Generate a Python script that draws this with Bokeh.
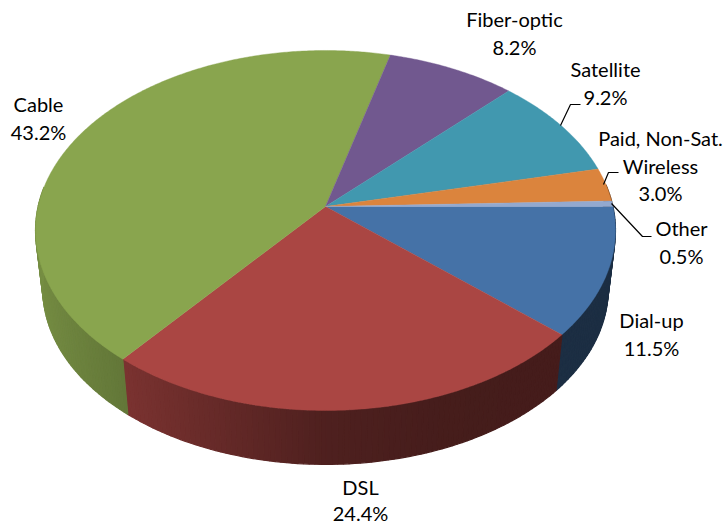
import math
from bokeh.plotting import figure
from bokeh.models import Range1d
from bokeh.core.properties import value
from bokeh.embed import file_html
from bokeh.resources import INLINE

categories = ["Dial-up", "DSL", "Cable", "Fiber-optic", "Satellite", "Paid, Non-Sat. Wireless", "Other"]
shares = [11.5, 24.4, 43.2, 8.2, 9.2, 3.0, 0.5]
colors = ["#4572A7", "#AA4643", "#89A54E", "#71588F", "#4198AF", "#DB843D", "#93A9CF"]

label_lines = [["Dial-up", "11.5%"], ["DSL", "24.4%"], ["Cable", "43.2%"], ["Fiber-optic", "8.2%"],
               ["Satellite", "9.2%"], ["Paid, Non-Sat.", "Wireless", "3.0%"], ["Other", "0.5%"]]
label_x = [651, 360, 38, 514, 605, 660, 681]
label_y = [319.5, 486.5, 103.5, 18.5, 68.5, 137.5, 227.5]
line_steps = [27.7, 25.5, 27.7, 27.7, 27.7, 27.7, 27.7]

# perspective disc
CX, CY, A, B, K = 325, 206, 176.8, 287.4, 0.1333
WALL_SCALE, WALL_Y = 0.975, 265


def top(theta):
    X, Y = math.cos(theta), math.sin(theta)
    d = 1 + K * Y
    return CX + B * X / d, CY - A * Y / d


def bottom(theta):
    X, Y = math.cos(theta), math.sin(theta)
    d = 1 + K * Y
    return CX + WALL_SCALE * B * X / d, WALL_Y - WALL_SCALE * A * Y / d


def shade(X):
    stops = [(-1.0, 0.86), (-0.63, 0.72), (0.0, 0.46), (0.35, 0.41), (1.0, 0.40)]
    for (a, sa), (b, sb) in zip(stops, stops[1:]):
        if X <= b:
            return sa + (sb - sa) * (X - a) / (b - a)
    return stops[-1][1]


def scaled(hexcol, f):
    r, g, b = (int(hexcol[i:i + 2], 16) for i in (1, 3, 5))
    return "#%02x%02x%02x" % (round(r * f), round(g * f), round(b * f))


W, H = 726, 524
p = figure(width=W, height=H, output_backend="svg", toolbar_location=None,
           x_range=Range1d(0, W), y_range=Range1d(H, 0),
           min_border=0, outline_line_color=None, background_fill_color="white")
p.xaxis.visible = False
p.yaxis.visible = False
p.grid.visible = False

# slice spans, clockwise from the 3 o'clock direction
total = sum(shares)
spans = []
start = 0.0
for s in shares:
    spans.append((start, start + s / total * 2 * math.pi))
    start = spans[-1][1]

# side wall, drawn as narrow shaded strips on the near half
wx, wy, wc = [], [], []
for (a, b), col in zip(spans, colors):
    n = max(1, int(math.degrees(b - a)))
    for i in range(n):
        t0 = a + (b - a) * i / n
        t1 = a + (b - a) * (i + 1) / n
        tm = (t0 + t1) / 2
        # positive t runs clockwise on screen: near side is where sin(t) > 0
        if math.sin(tm) < -0.12:
            continue
        p0 = top(-t0); p1 = top(-t1); q1 = bottom(-t1); q0 = bottom(-t0)
        wx.append([p0[0], p1[0], q1[0], q0[0]])
        wy.append([p0[1], p1[1], q1[1], q0[1]])
        wc.append(scaled(col, shade(math.cos(tm))))
p.patches(wx, wy, fill_color=wc, line_color=wc, line_width=1.2)

# top face
fx, fy = [], []
for (a, b) in spans:
    n = max(2, int(math.degrees(b - a)) * 2)
    pts = [top(-(a + (b - a) * i / n)) for i in range(n + 1)]
    fx.append([CX] + [q[0] for q in pts])
    fy.append([CY] + [q[1] for q in pts])
p.patches(fx, fy, fill_color=colors, line_color=colors, line_width=0.4)

# labels
tx, ty, tt = [], [], []
for lines, x, y, step in zip(label_lines, label_x, label_y, line_steps):
    for i, line in enumerate(lines):
        tx.append(x)
        ty.append(y + i * step)
        tt.append(line)
p.text(tx, ty, text=tt, text_font=value("Lato"), text_font_size="20px", text_color="#000000",
       text_align="center", text_baseline="middle")

# leader lines
leader_x = [[603, 608, 618], [611, 642, 651], [560, 570, 580]]
leader_y = [[184, 172, 172], [203, 236, 236], [125, 104, 104]]
p.multi_line(leader_x, leader_y, line_color="#000000", line_width=1.2)

open("out.html", "w").write(file_html(p, INLINE))
